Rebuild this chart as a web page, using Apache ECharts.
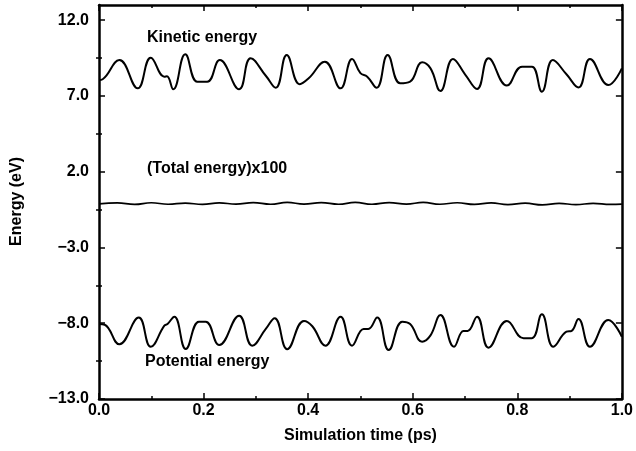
<!DOCTYPE html>
<html>
<head>
<meta charset="utf-8">
<script src="https://cdn.jsdelivr.net/npm/echarts@6/dist/echarts.min.js"></script>
<style>html,body{margin:0;padding:0;background:#fff}#c{width:636px;height:451px}</style>
</head>
<body>
<div id="c"></div>
<script>
var kineticTime = [0,0.007,0.039,0.074,0.099,0.125,0.130,0.142,0.165,0.188,0.207,0.231,0.268,0.290,0.319,0.338,0.359,0.384,0.401,0.432,0.462,0.484,0.500,0.513,0.531,0.552,0.576,0.595,0.618,0.634,0.653,0.677,0.700,0.723,0.745,0.780,0.809,0.828,0.847,0.868,0.894,0.917,0.939,0.974,1.0];
var kineticValue = [8.05,8.1,9.37,7.50,9.52,8.27,8.3,7.44,9.75,7.94,7.94,9.37,7.44,9.48,8.33,7.54,9.70,7.77,8.16,9.26,7.50,9.44,8.5,8.27,7.54,9.70,7.83,7.94,9.22,8.82,7.32,9.44,8.43,7.46,9.48,7.68,8.93,8.93,7.28,9.37,8.43,7.56,9.44,7.72,8.82];

var potentialTime = [0,0.011,0.039,0.076,0.099,0.125,0.131,0.144,0.166,0.191,0.204,0.230,0.268,0.293,0.319,0.336,0.360,0.392,0.408,0.433,0.462,0.484,0.506,0.515,0.532,0.554,0.580,0.595,0.618,0.634,0.653,0.679,0.697,0.705,0.723,0.745,0.780,0.812,0.828,0.847,0.869,0.894,0.904,0.917,0.939,0.974,1.0];
var potentialValue = [-8.05,-8.1,-9.39,-7.63,-9.55,-8.16,-8.05,-7.57,-9.70,-7.90,-7.90,-9.44,-7.50,-9.48,-8.38,-7.67,-9.72,-7.85,-8.2,-9.48,-7.57,-9.48,-8.38,-8.38,-7.63,-9.77,-7.90,-8.05,-9.22,-8.8,-7.46,-9.55,-8.51,-8.51,-7.57,-9.61,-7.85,-8.99,-8.99,-7.41,-9.55,-8.56,-8.5,-7.72,-9.55,-7.79,-8.89];

var totalTime = [0,0.035,0.068,0.100,0.132,0.165,0.198,0.230,0.262,0.295,0.328,0.360,0.392,0.425,0.458,0.490,0.522,0.555,0.588,0.620,0.652,0.685,0.718,0.750,0.782,0.815,0.848,0.880,0.912,0.945,0.978,1.0];
var totalValue = [-0.12,-0.06,-0.16,-0.05,-0.15,-0.07,-0.16,-0.06,-0.14,-0.04,-0.15,-0.03,-0.14,-0.04,-0.15,-0.03,-0.15,-0.04,-0.14,-0.03,-0.15,-0.05,-0.16,-0.06,-0.17,-0.08,-0.19,-0.09,-0.17,-0.09,-0.16,-0.14];

var xTicks = [0,0.2,0.4,0.6,0.8,1.0];
var yMajor = [-13,-8,-3,2,7,12];
var yMinor = [-10.5,-5.5,-0.5,4.5,9.5];

var labels = {kinetic:'Kinetic energy', total:'(Total energy)x100', potential:'Potential energy', xName:'Simulation time (ps)', yName:'Energy (eV)'};

function pairs(t, v){ return t.map(function(x,i){return [x, v[i]];}); }

var FONT = '"Liberation Sans", Arial, Helvetica, sans-serif';
var lineStyleAxis = {color:'#000', width:2.5};
function fmtY(v){ var s = Math.abs(v).toFixed(1); return (v<0?'\u2212':'') + s; }

var chart = echarts.init(document.getElementById('c'), null, {renderer:'canvas'});
var option = {
  animation:false,
  backgroundColor:'#fff',
  grid:{left:99, right:13, top:5, bottom:52, containLabel:false},
  xAxis:[
    {type:'value', position:'bottom', min:0, max:1, interval:0.2,
     name:labels.xName, nameLocation:'middle', nameGap:29,
     nameTextStyle:{fontFamily:FONT, fontWeight:'bold', fontSize:16, color:'#000'},
     axisLine:{show:true, onZero:false, lineStyle:lineStyleAxis},
     axisTick:{show:true, inside:true, length:6, lineStyle:{color:'#000', width:1.5}},
     minorTick:{show:true, splitNumber:2, length:3, lineStyle:{color:'#000', width:1.5}},
     axisLabel:{fontFamily:FONT, fontWeight:'bold', fontSize:16, color:'#000', margin:4,
       customValues:xTicks, formatter:function(v){return v.toFixed(1);}},
     splitLine:{show:false}},
    {type:'value', position:'top', min:0, max:1, interval:0.2,
     axisLine:{show:true, onZero:false, lineStyle:lineStyleAxis},
     axisTick:{show:true, inside:true, length:6, lineStyle:{color:'#000', width:1.5}},
     minorTick:{show:true, splitNumber:2, length:3, lineStyle:{color:'#000', width:1.5}},
     axisLabel:{show:false}, splitLine:{show:false}}
  ],
  yAxis:[
    {type:'value', position:'left', min:-13, max:13,
     axisLine:{show:true, onZero:false, lineStyle:lineStyleAxis},
     axisTick:{show:true, inside:true, length:6, customValues:yMajor, lineStyle:{color:'#000', width:1.5}},
     axisLabel:{fontFamily:FONT, fontWeight:'bold', fontSize:16, color:'#000', margin:10,
       customValues:yMajor, formatter:fmtY},
     splitLine:{show:false}},
    {type:'value', position:'left', min:-13, max:13,
     axisLine:{show:false},
     axisTick:{show:true, inside:true, length:3, customValues:yMinor, lineStyle:{color:'#000', width:1.5}},
     axisLabel:{show:false}, splitLine:{show:false}},
    {type:'value', position:'right', min:-13, max:13,
     axisLine:{show:true, onZero:false, lineStyle:lineStyleAxis},
     axisTick:{show:true, inside:true, length:6, customValues:yMajor, lineStyle:{color:'#000', width:1.5}},
     axisLabel:{show:false}, splitLine:{show:false}},
    {type:'value', position:'right', min:-13, max:13,
     axisLine:{show:false},
     axisTick:{show:true, inside:true, length:3, customValues:yMinor, lineStyle:{color:'#000', width:1.5}},
     axisLabel:{show:false}, splitLine:{show:false}}
  ],
  series:[
    {type:'line', name:labels.kinetic, data:pairs(kineticTime, kineticValue), smooth:0.45, showSymbol:false,
     lineStyle:{color:'#000', width:2}},
    {type:'line', name:labels.potential, data:pairs(potentialTime, potentialValue), smooth:0.45, showSymbol:false,
     lineStyle:{color:'#000', width:2}},
    {type:'line', name:labels.total, data:pairs(totalTime, totalValue), smooth:0.45, showSymbol:false,
     lineStyle:{color:'#000', width:1.7}}
  ],
  graphic:[
    {type:'text', left:147, top:30, style:{text:labels.kinetic, font:'bold 16px '+FONT, fill:'#000'}},
    {type:'text', left:147, top:161, style:{text:labels.total, font:'bold 16px '+FONT, fill:'#000'}},
    {type:'text', left:145, top:354, style:{text:labels.potential, font:'bold 16px '+FONT, fill:'#000'}},
    {type:'text', left:9, top:157, rotation:Math.PI/2, style:{text:labels.yName, font:'bold 16px '+FONT, fill:'#000'}}
  ]
};
chart.setOption(option);
</script>
</body>
</html>
